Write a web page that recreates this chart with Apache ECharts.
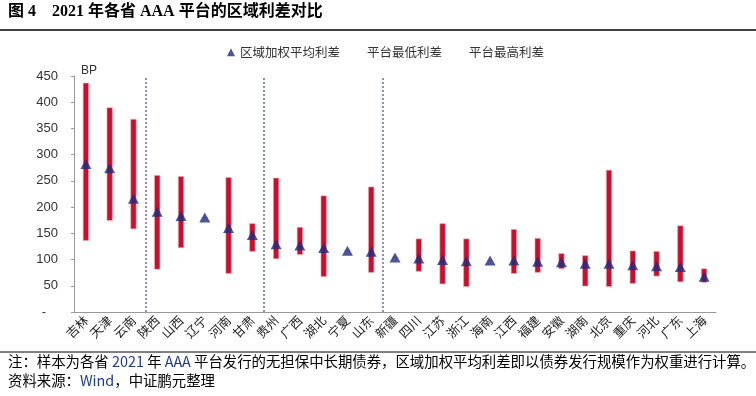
<!DOCTYPE html>
<html>
<head>
<meta charset="utf-8">
<script src="https://cdn.jsdelivr.net/npm/echarts@6/dist/echarts.min.js"></script>
<style>
  html, body { margin: 0; padding: 0; background: #fff; }
  #chart { width: 756px; height: 396px; }
</style>
</head>
<body>
<div id="chart"></div>
<script>
// provinces, left to right
const provinces = ['吉林', '天津', '云南', '陕西', '山西', '辽宁', '河南', '甘肃', '贵州', '广西', '湖北', '宁夏', '山东', '新疆', '四川', '江苏', '浙江', '海南', '江西', '福建', '安徽', '湖南', '北京', '重庆', '河北', '广东', '上海']
// 区域加权平均利差 (BP)
const avgSpread = [282, 274, 216, 191, 183, 180, 160, 147, 129, 127, 122, 117, 115, 104, 102, 99, 97, 98, 98, 96, 95, 92, 92, 89, 87, 86, 67]
// 平台最低利差 (BP)
const minSpread = [136, 174, 158, 81, 122, 180, 73, 115, 101, 109, 67, 117, 75, 104, 77, 53, 48, 98, 73, 75, 82, 49, 48, 54, 68, 57, 56]
// 平台最高利差 (BP)
const maxSpread = [437, 390, 368, 261, 259, 180, 257, 169, 256, 162, 222, 117, 239, 104, 140, 169, 140, 98, 158, 141, 112, 108, 271, 117, 116, 165, 83]
// group dividers (after 云南, 甘肃, 山东)
const dividers = [3, 8, 13]
const yTicks = [0, 50, 100, 150, 200, 250, 300, 350, 400, 450]

const cjk = '"Noto Sans CJK SC", "Noto Sans", sans-serif'
const chart = echarts.init(document.getElementById('chart'))

chart.setOption({
  animation: false,
  grid: { left: 74, right: 40, top: 76, bottom: 84 },
  legend: {
    left: 222,
    top: 41,
    itemGap: 14,
    itemWidth: 8,
    itemHeight: 8,
    textStyle: { fontFamily: cjk, fontSize: 12.5, color: '#333' },
    data: [
      { name: '区域加权平均利差', icon: 'triangle', itemStyle: { color: '#1f2a80' } },
      { name: '平台最低利差', icon: 'none' },
      { name: '平台最高利差', icon: 'none' }
    ]
  },
  xAxis: [
    {
      type: 'category',
      data: provinces,
      axisLine: { lineStyle: { color: '#9a9a9a' } },
      axisTick: { lineStyle: { color: '#9a9a9a' }, length: 4 },
      axisLabel: { rotate: 45, margin: 6, fontFamily: cjk, fontSize: 12.5, color: '#222', interval: 0 }
    },
    { type: 'value', min: 0, max: provinces.length, show: false }
  ],
  yAxis: {
    type: 'value',
    min: yTicks[0],
    max: yTicks[yTicks.length - 1],
    interval: 50,
    splitLine: { show: false },
    axisLine: { show: true, lineStyle: { color: '#9a9a9a' } },
    axisTick: { show: true, length: 3, lineStyle: { color: '#9a9a9a' } },
    axisLabel: {
      margin: 16,
      fontFamily: 'Liberation Sans, Arial, sans-serif',
      fontSize: 13,
      color: '#333',
      formatter: v => (v === 0 ? '{d|-}' : String(v)),
      rich: { d: { fontSize: 13, padding: [0, 12, 0, 0] } }
    }
  },
  series: [
    {
      name: '平台最低利差',
      type: 'bar',
      stack: 'range',
      barWidth: 6,
      itemStyle: { color: 'transparent' },
      data: minSpread
    },
    {
      name: '平台最高利差',
      type: 'bar',
      stack: 'range',
      barWidth: 6,
      itemStyle: { color: '#c8102e', borderColor: '#f0a3ad', borderWidth: 0.6 },
      data: maxSpread.map((v, i) => v - minSpread[i])
    },
    {
      name: '区域加权平均利差',
      type: 'scatter',
      symbol: 'triangle',
      symbolSize: [11, 10],
      itemStyle: { color: '#1f2a80' },
      z: 5,
      data: avgSpread
    },
    {
      name: 'divider',
      type: 'line',
      xAxisIndex: 1,
      data: [],
      silent: true,
      markLine: {
        symbol: 'none',
        silent: true,
        label: { show: false },
        lineStyle: { color: '#9090c0', type: [2, 2], width: 2 },
        data: dividers.map(d => ({ xAxis: d }))
      }
    }
  ],
  graphic: [
    {
      type: 'text',
      left: 8,
      top: 4,
      style: {
        text: '图 4    2021 年各省 AAA 平台的区域利差对比',
        font: 'bold 16px "Liberation Serif", "Noto Sans CJK SC", serif',
        fill: '#000'
      }
    },
    {
      type: 'line',
      shape: { x1: 0, y1: 30, x2: 756, y2: 30 },
      style: { stroke: '#000', lineWidth: 1.5 }
    },
    {
      type: 'text',
      left: 81,
      top: 65,
      style: { text: 'BP', font: '12px "Liberation Sans", Arial, sans-serif', fill: '#333' }
    },
    {
      type: 'line',
      shape: { x1: 0, y1: 352, x2: 756, y2: 352 },
      style: { stroke: '#000', lineWidth: 1 }
    },
    {
      type: 'text',
      left: 8,
      top: 354,
      style: {
        text: '注：样本为各省 {b|2021} 年 {b|AAA} 平台发行的无担保中长期债券，区域加权平均利差即以债券发行规模作为权重进行计算。',
        font: '14.4px ' + cjk,
        fill: '#000',
        rich: { b: { fill: '#1f3a8a', fontSize: 14.4, fontFamily: cjk } }
      }
    },
    {
      type: 'text',
      left: 8,
      top: 373,
      style: {
        text: '资料来源：{b|Wind}，中证鹏元整理',
        font: '14.4px ' + cjk,
        fill: '#000',
        rich: { b: { fill: '#1f3a8a', fontSize: 14.4, fontFamily: cjk } }
      }
    }
  ]
})
</script>
</body>
</html>
